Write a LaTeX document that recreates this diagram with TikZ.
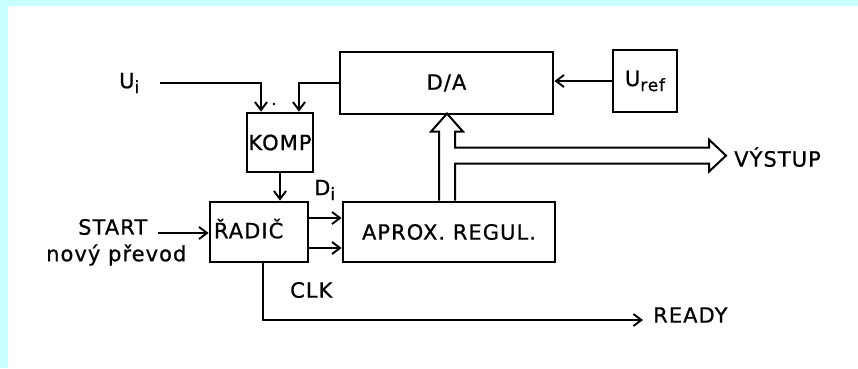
\documentclass[tikz,border=0pt]{standalone}
\usepackage{fontspec}
\setmainfont[LetterSpace=5,FakeBold=0.8]{DejaVu Sans}
\usepackage{tikz}
\usetikzlibrary{arrows.meta,calc}
\definecolor{bgcyan}{RGB}{200,255,255}

\tikzset{
  blok/.style={draw, line width=2.8pt, inner sep=2pt, font=\fontsize{21}{25}\selectfont},
  lbl/.style={inner sep=1pt, font=\fontsize{21}{25}\selectfont},
  spoj/.style={line width=1.9pt, ->},
  sbernice/.style={line width=2pt, line join=miter},
}
\newcommand{\indx}[1]{\raisebox{-5pt}{\fontsize{17}{17}\selectfont #1}}

\begin{document}
\begin{tikzpicture}[x=1pt, y=-1pt, >={Straight Barb[length=8pt,width=12pt]}]
    \useasboundingbox (0,0) rectangle (858,368);
    % Background
    \fill[bgcyan] (0,0) rectangle (858,368);
    \fill[white] (8,6) rectangle (858,368);

    % Blocks
    \node[blok, minimum width=213pt, minimum height=62pt] (da) at (446.5,83) {D/A};
    \node[blok, minimum width=64pt, minimum height=62pt, inner sep=0pt] (uref) at (645,81) {U\indx{ref}};
    \node[blok, minimum width=66pt, minimum height=59pt, inner sep=0pt] (komp) at (280,142.5) {KOMP};
    \node[blok, minimum width=98pt, minimum height=60pt, text width=90pt, align=left] (radic) at (259,232) {\raisebox{7pt}{ŘADIČ}};
    \node[blok, minimum width=212pt, minimum height=60pt] (aprox) at (449,232) {APROX. REGUL.};

    % Labels
    \node[lbl, anchor=west] (ui) at (118,83) {U\indx{i}};
    \node[lbl, anchor=west] (start) at (77,227) {START};
    \node[lbl, anchor=west] (prevod) at (45,255) {nový převod};
    \node[lbl, anchor=west] (di) at (313,190) {D\indx{i}};
    \node[lbl, anchor=west] (clk) at (289,290) {CLK};
    \node[lbl, anchor=west] (vystup) at (733,157) {VÝSTUP};
    \node[lbl, anchor=west] (ready) at (652,315) {READY};

    % Connections
    \draw[spoj, shorten <=20pt] (ui.east) -| ([xshift=-19pt]komp.north);
    \draw[spoj] (da.west) -| ([xshift=19pt]komp.north);
    \fill (274,104) circle (1.4);
    \draw[spoj] (uref.west) -- (uref.west -| da.east);
    \draw[spoj] (komp.south) -- (komp.south |- radic.north);
    \draw[spoj, shorten <=10pt] ([yshift=-6pt]start.east) -- ([yshift=-6pt]start.east -| radic.west);
    \draw[spoj] ([yshift=14pt]radic.east) -- ([yshift=14pt]aprox.west);
    \draw[spoj] ([yshift=-16pt]radic.east) -- ([yshift=-16pt]aprox.west);
    \draw[spoj, shorten >=9pt] ([xshift=4pt]radic.south) |- ([yshift=-5pt]ready.west);

    % Bus to D/A and output
    \draw[sbernice] ($(aprox.north)+(-10,0)$) -- ++(0,-69) -- ++(-8,0) -- ++(16,-18)
        -- ++(16,18) -- ++(-8,0) -- ++(0,16) -- ++(254,0) -- ++(0,-8) -- ++(17,16)
        -- ++(-17,16) -- ++(0,-8) -- ++(-254,0) -- ++(0,37);
\end{tikzpicture}
\end{document}
